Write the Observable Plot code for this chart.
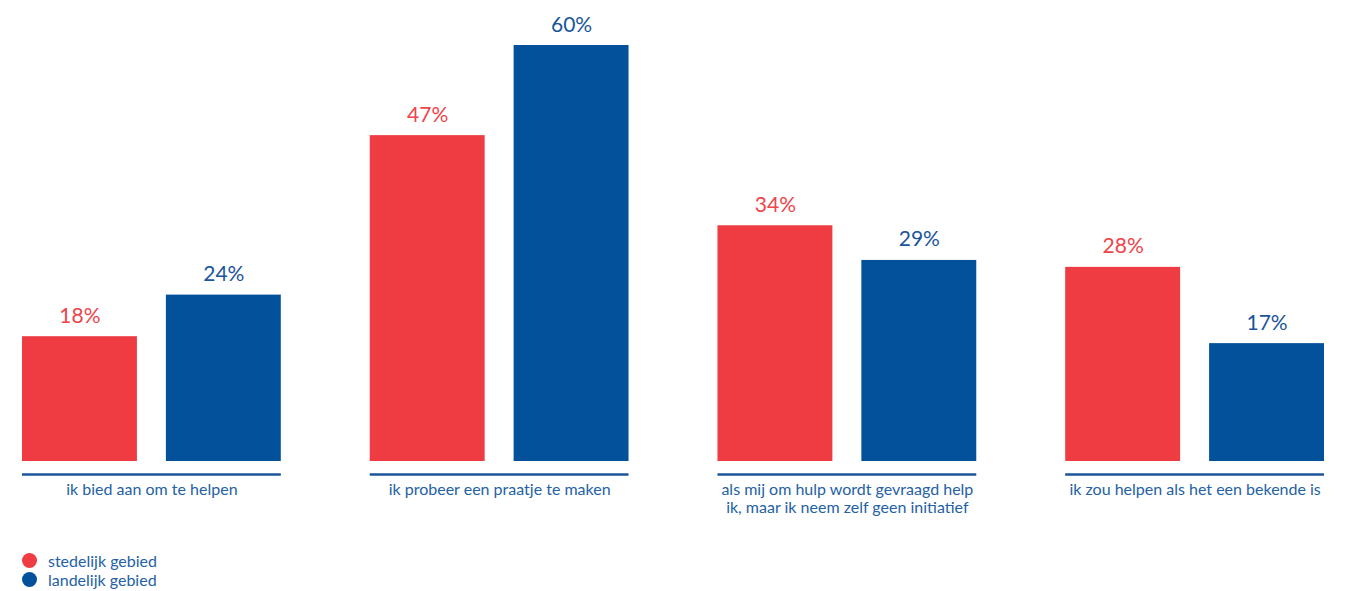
<!DOCTYPE html>
<html>
<head>
<meta charset="utf-8">
<script src="https://cdn.jsdelivr.net/npm/d3@7"></script>
<script src="https://cdn.jsdelivr.net/npm/@observablehq/plot@0.6"></script>
<style>
  html, body { margin: 0; padding: 0; background: #fff; }
  body { width: 1351px; height: 591px; overflow: hidden; font-family: Lato, "Open Sans", sans-serif; }
  #legend { position: relative; padding-left: 22px; padding-top: 21px; }
  .item { display: flex; align-items: center; height: 19px; font-size: 16px; color: #2461a5; }
  .dot { width: 15px; height: 15px; border-radius: 50%; margin-right: 11px; }
</style>
</head>
<body>
<div id="chart"></div>
<div id="legend"></div>
<script>
const categories = [
  "ik bied aan om te helpen",
  "ik probeer een praatje te maken",
  "als mij om hulp wordt gevraagd help\nik, maar ik neem zelf geen initiatief",
  "ik zou helpen als het een bekende is"
];
const series = ["stedelijk gebied", "landelijk gebied"];
const stedelijk = [18, 47, 34, 28];
const landelijk = [24, 60, 29, 17];
const colors = ["#EF3B42", "#03519B"];

const data = [];
categories.forEach((c, i) => {
  data.push({category: c, series: series[0], value: stedelijk[i]});
  data.push({category: c, series: series[1], value: landelijk[i]});
});

const chart = Plot.plot({
  width: 1351,
  height: 530,
  marginTop: 45,
  marginBottom: 69,
  marginLeft: 22,
  marginRight: 27,
  style: {fontFamily: "Lato, 'Open Sans', sans-serif", color: "#2461a5", background: "#fff"},
  fx: {domain: categories, paddingInner: 89 / 348, paddingOuter: 0, round: false, label: null},
  x: {domain: series, paddingInner: 29 / 144, paddingOuter: 0, round: false, axis: null},
  y: {domain: [0, 60], axis: null},
  color: {domain: series, range: colors},
  marks: [
    Plot.barY(data, {fx: "category", x: "series", y: "value", fill: "series"}),
    Plot.text(data, {
      fx: "category", x: "series", y: "value",
      text: d => d.value + "%",
      fill: d => d.series === series[0] ? "#EF444A" : "#1a559b",
      lineAnchor: "bottom", dy: -14, fontSize: 21
    }),
    Plot.ruleY([0], {stroke: "#1a559b", strokeWidth: 2.5, dy: 13}),
    Plot.axisFx({
      anchor: "bottom", tickSize: 0, tickPadding: 20, fontSize: 16,
      lineHeight: 1.15, label: null, fill: "#2461a5"
    })
  ]
});
document.getElementById("chart").appendChild(chart);

const legend = document.getElementById("legend");
series.forEach((s, i) => {
  const item = document.createElement("div");
  item.className = "item";
  const dot = document.createElement("span");
  dot.className = "dot";
  dot.style.background = colors[i];
  const label = document.createElement("span");
  label.textContent = s;
  item.appendChild(dot);
  item.appendChild(label);
  legend.appendChild(item);
});
</script>
</body>
</html>
